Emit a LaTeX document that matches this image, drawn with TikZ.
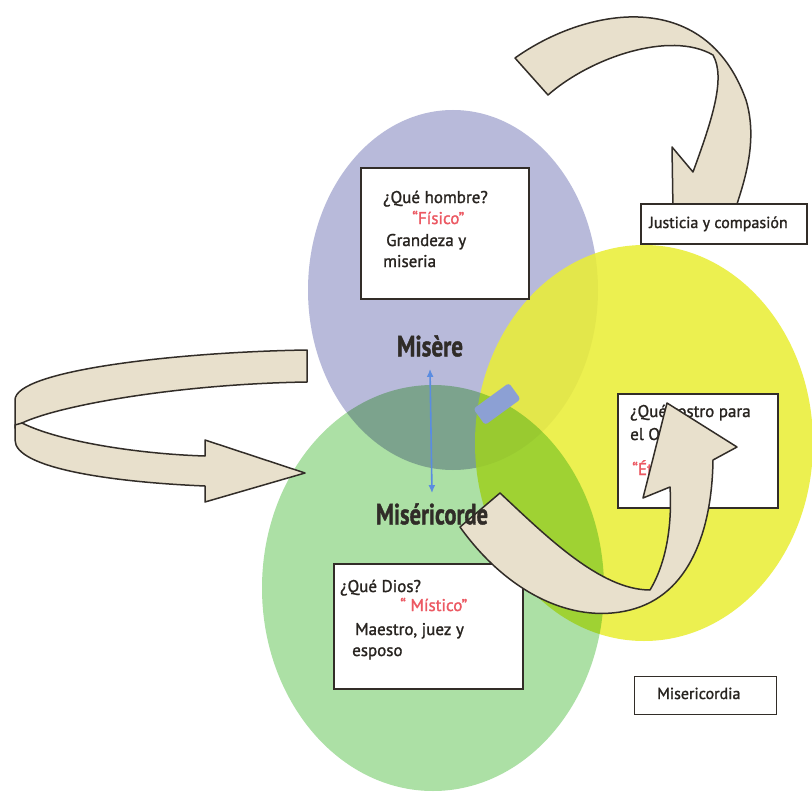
\documentclass[tikz,border=0pt]{standalone}
\usepackage{fontspec}
\setmainfont{PT Sans}
\newfontfamily\boxfont[FakeBold=1.4]{PT Sans}
\usetikzlibrary{arrows.meta}
\definecolor{blueE}{RGB}{184,186,218}
\definecolor{greenE}{RGB}{172,224,165}
\definecolor{yellowE}{RGB}{234,238,56}
\definecolor{tanF}{RGB}{232,224,204}
\definecolor{lineC}{RGB}{50,45,40}
\definecolor{redT}{RGB}{236,88,98}
\definecolor{darkT}{RGB}{40,36,32}
\definecolor{labT}{RGB}{48,44,40}
\definecolor{blueA}{RGB}{90,140,225}
\definecolor{blobC}{RGB}{140,160,212}
\tikzset{
  boxframe/.style={draw=lineC, line width=1.8pt, fill=white, inner sep=0pt, anchor=north west},
  txt/.style={anchor=base west, inner sep=0pt, text=darkT, font=\boxfont\fontsize{17}{19}\selectfont},
  redtxt/.style={txt, text=redT},
  biglab/.style={inner sep=0pt, text=labT},
  ribbon/.style={fill=tanF, draw=lineC, line width=1.5pt, line join=round},
  bluearrow/.style={draw=blueA, line width=1.6pt, {Latex[length=8pt,width=7pt]}-{Latex[length=8pt,width=7pt]}},
  blob/.style={fill=blobC, rounded corners=3pt, inner sep=0pt, minimum width=44pt, minimum height=20pt}
}
\begin{document}
\begin{tikzpicture}[x=1pt,y=-1pt]
\useasboundingbox (0,0) rectangle (812,792);
\fill[white] (0,0) rectangle (812,792);
% ellipses
\fill[blueE] (453,290) ellipse [x radius=145, y radius=180];
\fill[yellowE, fill opacity=0.88] (644,443) ellipse [x radius=169, y radius=198];
\begin{scope}[blend mode=multiply]
\fill[greenE] (433,588) ellipse [x radius=171, y radius=203];
\end{scope}
% boxes
\node[boxframe, minimum width=168pt, minimum height=131pt] (b1) at (360,167) {};
\node[boxframe, minimum width=189pt, minimum height=125pt] (b2) at (333,563) {};
\node[boxframe, minimum width=160pt, minimum height=114pt] (b3) at (617,393) {};
% box texts
\node[txt] (t11) at (383,203) {¿Qué hombre?};
\node[redtxt] (t12) at (412,224) {“Físico”};
\node[txt] (t13) at (386,246) {Grandeza y};
\node[txt] (t14) at (383,267) {miseria};
\node[txt] (t21) at (340,592) {¿Qué Dios?};
\node[redtxt] (t22) at (400,611) {“ Místico”};
\node[txt] (t23) at (355,635) {Maestro, juez y};
\node[txt] (t24) at (352,656) {esposo};
\node[txt] (t31) at (630,417) {¿Qué rostro para};
\node[txt] (t32) at (630,440) {el Otro?};
\node[redtxt] (t33) at (632,475) {“Ético”};
% left ribbon arrow
\draw[ribbon] (307,350) .. controls (180,352) and (15,370) .. (15,400) -- (15,428)
  -- (22,423) .. controls (60,405) and (180,384) .. (307,382) -- cycle;
\draw[ribbon] (22,423) .. controls (60,442) and (140,454) .. (205,456) -- (205,440)
  -- (305,473) -- (205,502) -- (205,486) .. controls (110,482) and (15,468) .. (15,440)
  -- (15,425) -- cycle;
% top-right arrow
\draw[ribbon] (515,58) .. controls (585,8) and (705,-15) .. (746,100)
  .. controls (758,140) and (745,180) .. (735,210) -- (673,210) -- (672,147)
  -- (693,172) .. controls (712,120) and (726,78) .. (713,55)
  .. controls (670,30) and (590,58) .. (548,95) -- cycle;
% bottom-middle arrow
\draw[ribbon] (460,527) -- (500,493) .. controls (545,535) and (600,590) .. (650,590)
  .. controls (668,560) and (672,520) .. (670,487) -- (643,498) -- (667,403)
  -- (737,447) -- (713,460) .. controls (712,530) and (690,595) .. (630,610)
  .. controls (570,625) and (505,590) .. (460,527) -- cycle;
% big labels
\node[biglab] (mis) at (430,346) {\resizebox{66pt}{21pt}{\boxfont\bfseries Misère}};
\node[biglab] (misc) at (432,514) {\resizebox{112pt}{21pt}{\boxfont\bfseries Miséricorde}};
\draw[bluearrow] ([yshift=-12pt]mis.south) -- ([yshift=10pt]misc.north);
\node[blob, rotate=36] (bl) at (497,404) {};
% label boxes
\node[draw=lineC, line width=1.6pt, fill=white, minimum width=166pt, minimum height=40pt, anchor=north west, inner sep=0pt] (b4) at (640,203) {};
\node[txt, font=\boxfont\fontsize{16}{18}\selectfont] (t4) at (649,228) {Justicia y compasión};
\node[draw=lineC, line width=1.4pt, fill=white, minimum width=142pt, minimum height=38pt, anchor=north west, inner sep=0pt] (b5) at (634,676) {};
\node[txt, font=\boxfont\fontsize{16}{18}\selectfont] (t5) at (657,699) {Misericordia};
\end{tikzpicture}
\end{document}
